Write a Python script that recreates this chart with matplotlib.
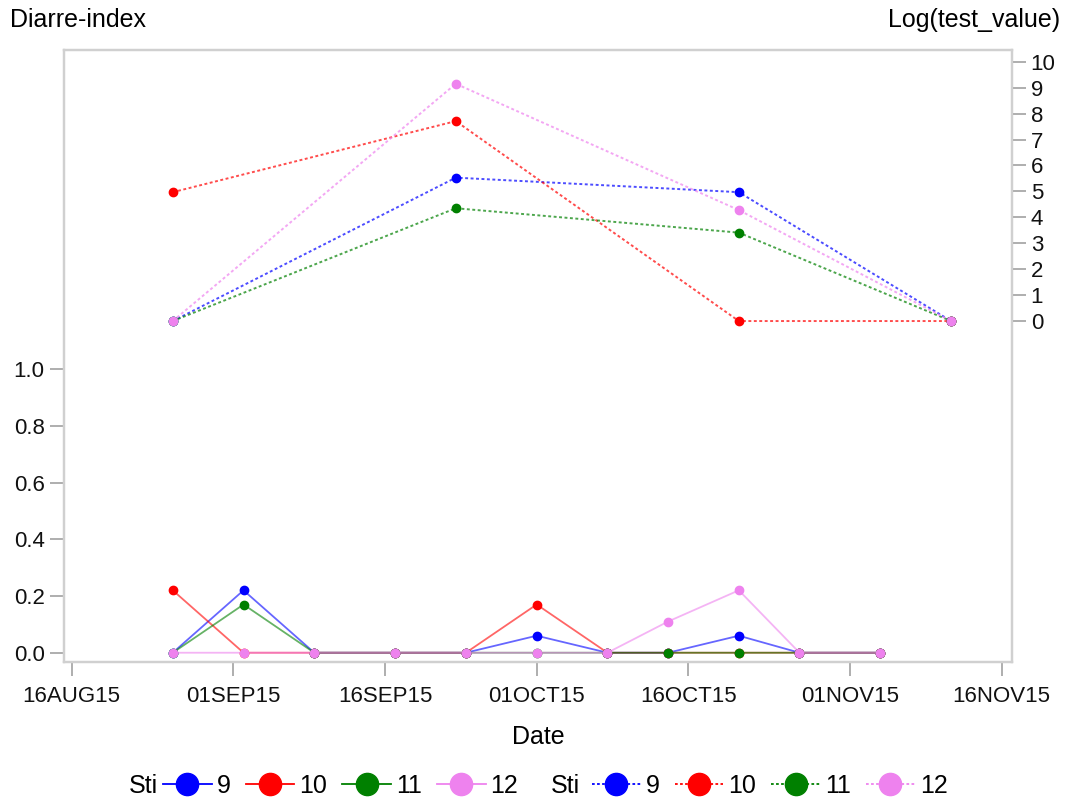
import matplotlib
matplotlib.use("Agg")
import matplotlib.pyplot as plt
import matplotlib.dates as mdates
from matplotlib.colors import to_rgba
from matplotlib.lines import Line2D
import pandas as pd

plt.rcParams['font.family'] = ['Liberation Sans', 'DejaVu Sans']

# groups and their colours
sti = ['9', '10', '11', '12']
colors = ['#0000ff', '#ff0000', '#008000', '#ee82ee']

# weekly diarrhoea index per group
diarre_dates = pd.to_datetime(['2015-08-26', '2015-09-02', '2015-09-09', '2015-09-17',
                               '2015-09-24', '2015-10-01', '2015-10-08', '2015-10-14',
                               '2015-10-21', '2015-10-27', '2015-11-04'])
diarre_9 = [0, 0.22, 0, 0, 0, 0.06, 0, 0, 0.06, 0, 0]
diarre_10 = [0.22, 0, 0, 0, 0, 0.17, 0, 0, 0, 0, 0]
diarre_11 = [0, 0.17, 0, 0, 0, 0, 0, 0, 0, 0, 0]
diarre_12 = [0, 0, 0, 0, 0, 0, 0, 0.11, 0.22, 0, 0]

# log test values per group
test_dates = pd.to_datetime(['2015-08-26', '2015-09-23', '2015-10-21', '2015-11-11'])
logtest_9 = [0, 5.53, 4.97, 0]
logtest_10 = [4.97, 7.71, 0, 0]
logtest_11 = [0, 4.35, 3.41, 0]
logtest_12 = [0, 9.15, 4.28, 0]

tick_dates = pd.to_datetime(['2015-08-16', '2015-09-01', '2015-09-16', '2015-10-01',
                             '2015-10-16', '2015-11-01', '2015-11-16'])
tick_labels = [d.strftime('%d%b%y').upper() for d in tick_dates]

diarre = [diarre_9, diarre_10, diarre_11, diarre_12]
logtest = [logtest_9, logtest_10, logtest_11, logtest_12]

frame_col = '#d0d0d0'
tick_col = '#999999'
dotted = (0, (1.5, 1.3))

fig = plt.figure(figsize=(10.65, 8.05), dpi=100)
ax = fig.add_axes([0.0601, 0.1776, 0.8901, 0.7602])
ax2 = ax.twinx()

for vals, c in zip(diarre, colors):
    ax.plot(diarre_dates, vals, ls='-', lw=1.3, color=to_rgba(c, 0.6),
            marker='o', ms=6, mfc=c, mec=c)

for vals, c in zip(logtest, colors):
    ax2.plot(test_dates, vals, ls=dotted, lw=1.4, color=to_rgba(c, 0.7),
             marker='o', ms=6, mfc=c, mec=c)

t0 = mdates.date2num(tick_dates[0])
t1 = mdates.date2num(tick_dates[-1])
ax.set_xlim(t0 - 0.76, t1 + 1.02)
ax.set_xticks(mdates.date2num(tick_dates))
ax.set_xticklabels(tick_labels)

ax.set_ylim(-0.0328, 2.1244)
ax.set_yticks([0.0, 0.2, 0.4, 0.6, 0.8, 1.0])
ax.set_yticklabels(['0.0', '0.2', '0.4', '0.6', '0.8', '1.0'])
ax2.set_ylim(-13.15, 10.45)
ax2.set_yticks(range(0, 11))

for a in (ax, ax2):
    for s in a.spines.values():
        s.set_color(frame_col)
        s.set_linewidth(1.6)
    a.tick_params(direction='out', length=10, width=1.1, color=tick_col,
                  labelsize=16, labelcolor='#111111')
ax.tick_params(axis='y', pad=4)
ax.tick_params(axis='x', pad=7.5)
ax2.tick_params(axis='y', pad=3.5)

ax.set_xlabel('Date', fontsize=18, labelpad=13)
fig.text(10 / 1065, 0.975, 'Diarre-index', fontsize=18, ha='left', va='center')
fig.text(1060 / 1065, 0.975, 'Log(test_value)', fontsize=18, ha='right', va='center')

# legends: solid = diarrhoea index, dotted = log test value
leg_y = 1 - 786 / 805
for ls, sti_x, leg_x in [('-', 129, 163), (dotted, 551, 592)]:
    handles = [Line2D([], [], color=c, ls=ls, lw=1.3, marker='o', ms=16, mfc=c, mec=c)
               for c in colors]
    fig.text(sti_x / 1065, leg_y, 'Sti', fontsize=18, ha='left', va='center')
    fig.legend(handles, sti, loc='center left', bbox_to_anchor=(leg_x / 1065, leg_y),
               ncol=4, frameon=False, fontsize=18, handlelength=1.95,
               handletextpad=0.2, columnspacing=0.6, borderpad=0, borderaxespad=0)

fig.savefig('out.png', dpi=100)
